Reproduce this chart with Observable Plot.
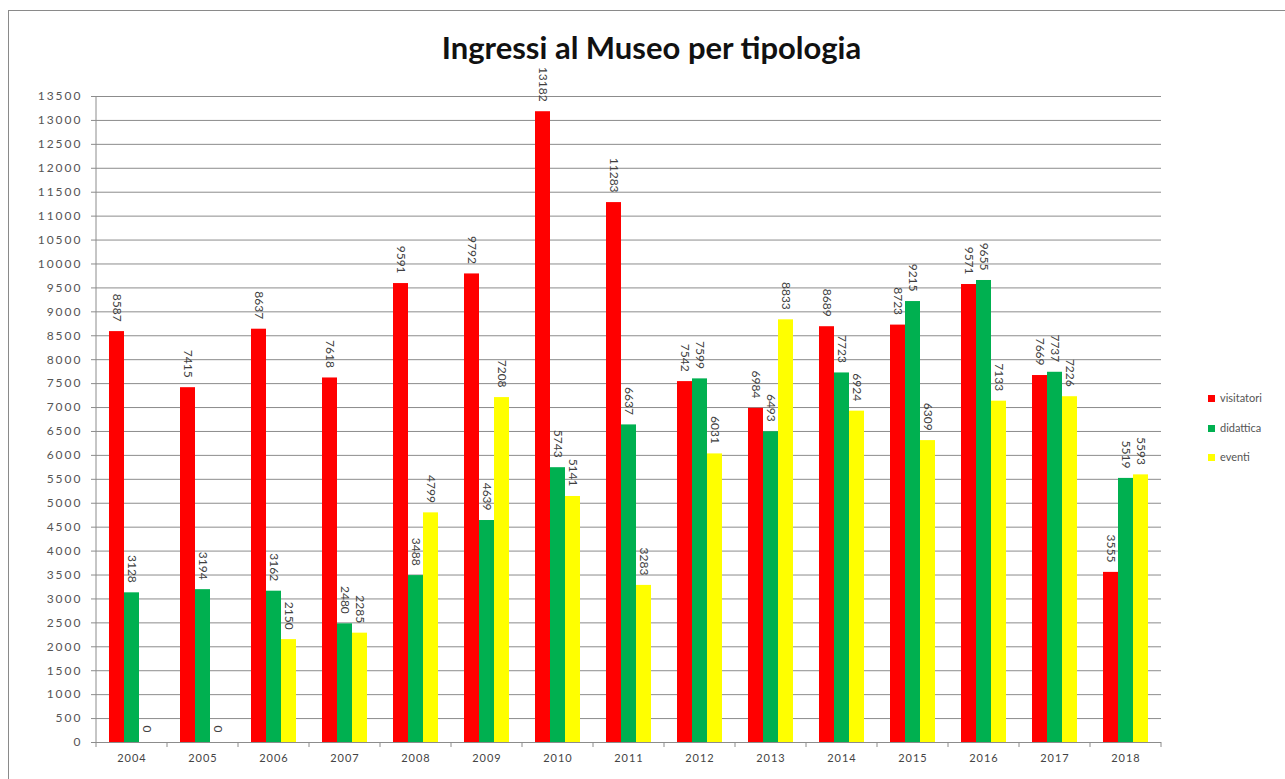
<!DOCTYPE html>
<html><head><meta charset="utf-8">
<script src="https://cdn.jsdelivr.net/npm/d3@7"></script>
<script src="https://cdn.jsdelivr.net/npm/@observablehq/plot@0.6"></script>
<style>
body{margin:0;background:#fff;font-family:Lato,sans-serif;}
#wrap{position:relative;width:1285px;height:779px;overflow:hidden;background:#fff;}
#border{position:absolute;left:8px;top:10px;width:1300px;height:800px;border:1px solid #8a8a8a;box-sizing:border-box;}
#title{position:absolute;left:9px;width:1285px;top:28px;text-align:center;font-weight:bold;font-size:31px;font-family:Lato,sans-serif;color:#111;}
#chart{position:absolute;left:0;top:0;}
.leg{position:absolute;left:1208px;font-size:11px;color:#555;font-family:Lato,sans-serif;line-height:12px;}
.leg span{display:inline-block;width:7px;height:7px;margin-right:5px;vertical-align:0px;}
g[aria-label="y-axis tick label"] text{letter-spacing:2px;}
g[aria-label="fx-axis tick label"] text{letter-spacing:1px;}
</style>
</head><body>
<div id="wrap">
  <div id="border"></div>
  <div id="chart"></div>
  <div id="title"></div>
  <div id="legend"></div>
</div>
<script>
const titleText = "Ingressi al Museo per tipologia";
const years = ["2004","2005","2006","2007","2008","2009","2010","2011","2012","2013","2014","2015","2016","2017","2018"];
const visitatori = [8587, 7415, 8637, 7618, 9591, 9792, 13182, 11283, 7542, 6984, 8689, 8723, 9571, 7669, 3555];
const didattica  = [3128, 3194, 3162, 2480, 3488, 4639, 5743, 6637, 7599, 6493, 7723, 9215, 9655, 7737, 5519];
const eventi     = [0, 0, 2150, 2285, 4799, 7208, 5141, 3283, 6031, 8833, 6924, 6309, 7133, 7226, 5593];
const series = ["visitatori", "didattica", "eventi"];
const colors = ["#ff0000", "#00b050", "#ffff00"];
const yTicks = d3.range(0, 13501, 500);

const seriesValues = {visitatori, didattica, eventi};
const data = [];
years.forEach((yr, i) => series.forEach(s => data.push({year: yr, series: s, value: seriesValues[s][i]})));

document.getElementById("title").textContent = titleText;

const chart = Plot.plot({
  width: 1285, height: 779,
  marginLeft: 92, marginRight: 120, marginTop: 96, marginBottom: 37,
  style: {fontFamily: "Lato, sans-serif", background: "transparent", overflow: "visible"},
  fx: {domain: years, padding: 0, label: null},
  x: {domain: series, paddingInner: 0, paddingOuter: 0.73, axis: null},
  y: {domain: [0, 13500], axis: null},
  color: {domain: series, range: colors},
  marks: [
    Plot.gridY(yTicks, {stroke: "#8c8c8c", strokeOpacity: 1}),
    Plot.axisY(yTicks, {tickSize: 5, tickPadding: 9, stroke: "#8c8c8c", fill: "#555", fontSize: 12, label: null, tickFormat: d => String(d)}),
    Plot.axisFx({anchor: "bottom", tickSize: 0, tickPadding: 12, fontSize: 11, fill: "#444", label: null}),
    Plot.barY(data, {fx: "year", x: "series", y: "value", fill: "series"}),
    Plot.text(data, {fx: "year", x: "series", y: "value", text: d => String(d.value), rotate: 90, textAnchor: "end", dy: -10, fontSize: 12, fill: "#404040"})
  ]
});
document.getElementById("chart").appendChild(chart);

// y axis line and category boundary ticks, from the plot's own scales
const ys = chart.scale("y"), fxs = chart.scale("fx");
const svg = d3.select(chart);
const x0 = fxs.apply(years[0]);
svg.append("line").attr("x1", x0).attr("x2", x0).attr("y1", ys.apply(0)).attr("y2", ys.apply(13500)).attr("stroke", "#8c8c8c");
const bounds = years.map(y => fxs.apply(y)).concat([fxs.apply(years[years.length-1]) + fxs.bandwidth]);
bounds.forEach(b => svg.append("line").attr("x1", b).attr("x2", b).attr("y1", ys.apply(0)).attr("y2", ys.apply(0) + 5).attr("stroke", "#8c8c8c"));

const legTop = [392, 422, 451];
const leg = document.getElementById("legend");
series.forEach((s, i) => {
  const d = document.createElement("div");
  d.className = "leg";
  d.style.top = legTop[i] + "px";
  d.innerHTML = `<span style="background:${colors[i]}"></span>${s}`;
  leg.appendChild(d);
});
</script>
</body></html>
